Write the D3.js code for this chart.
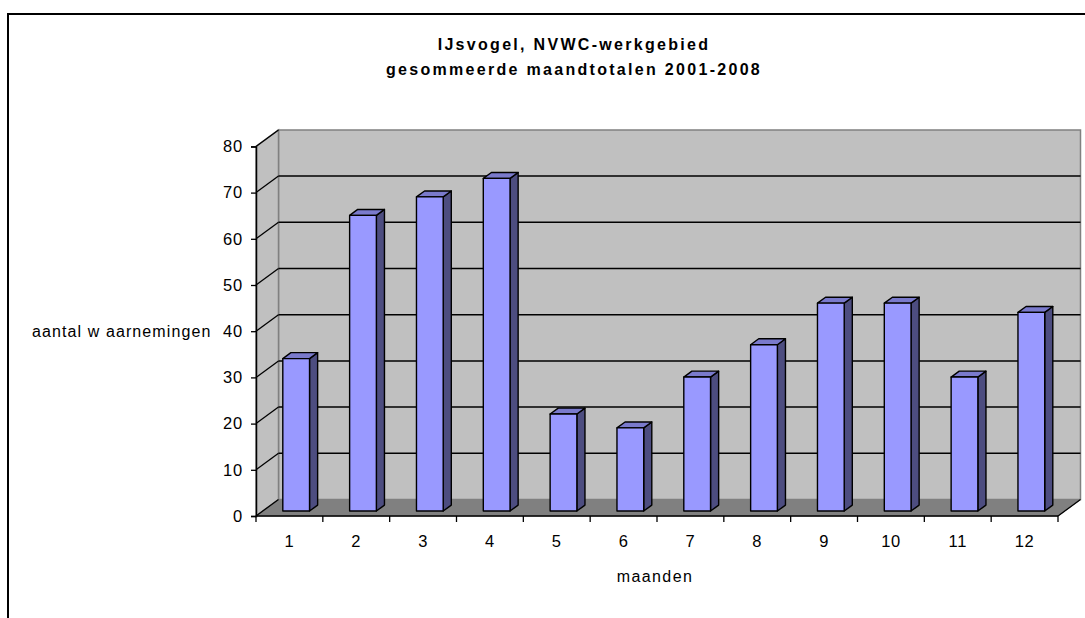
<!DOCTYPE html>
<html>
<head>
<meta charset="utf-8">
<script src="https://cdn.jsdelivr.net/npm/d3@7"></script>
<style>
html,body{margin:0;padding:0;background:#fff;}
svg{display:block;font-family:"Liberation Sans",Arial,sans-serif;}
</style>
</head>
<body>
<svg id="c" width="1085" height="618"></svg>
<script>
const months = ["1","2","3","4","5","6","7","8","9","10","11","12"];
const counts = [33,64,68,72,21,18,29,36,45,45,29,43];
const yTicks = [0,10,20,30,40,50,60,70,80];
const titleLines = ["IJsvogel, NVWC-werkgebied","gesommeerde maandtotalen 2001-2008"];
const xTitle = "maanden";
const yTitle = "aantal w aarnemingen";

const svg = d3.select("#c");
const W = 1085, H = 618;
const FONT = "Liberation Sans, Arial, sans-serif";

// outer chart border
svg.append("rect").attr("x",8).attr("y",14).attr("width",W+10).attr("height",H+10)
  .attr("fill","#fff").attr("stroke","#000").attr("stroke-width",2);

const X0 = 256, X1 = 1058, Y0 = 516, YTOP = 146.4;
const DX = 22.5, DY = 16.5;
const x = d3.scaleBand().domain(months).range([X0, X1]).padding(0);
const y = d3.scaleLinear().domain([0,80]).range([Y0, YTOP]);
const P = (px, py, d) => [px + d*DX, py - d*DY];
const poly = pts => "M" + pts.map(p => p.join(",")).join("L") + "Z";

// back wall
svg.append("path").attr("d", poly([P(X0,y(0),1),P(X1,y(0),1),P(X1,y(80),1),P(X0,y(80),1)]))
  .attr("fill","#c0c0c0").attr("stroke","#808080").attr("stroke-width",1.5);
// side wall
svg.append("path").attr("d", poly([P(X0,y(0),0),P(X0,y(0),1),P(X0,y(80),1),P(X0,y(80),0)]))
  .attr("fill","#c0c0c0").attr("stroke","#808080").attr("stroke-width",1.5);
// floor
svg.append("path").attr("d", poly([P(X0,Y0,0),P(X1,Y0,0),P(X1,Y0,1),P(X0,Y0,1)]))
  .attr("fill","#808080").attr("stroke","#808080").attr("stroke-width",1);

// gridlines on back wall + diagonals on side wall
const grid = svg.append("g");
yTicks.filter(t => t>0 && t<80).forEach(t => {
  const a = P(X0,y(t),1), b = P(X1,y(t),1);
  grid.append("line").attr("x1",a[0]).attr("y1",a[1]).attr("x2",b[0]).attr("y2",b[1])
    .attr("stroke","#000").attr("stroke-width",1.5);
});
yTicks.forEach(t => {
  const a = P(X0,y(t),0), b = P(X0,y(t),1);
  grid.append("line").attr("x1",a[0]).attr("y1",a[1]).attr("x2",b[0]).attr("y2",b[1])
    .attr("stroke","#000").attr("stroke-width",1.3);
});
// floor edge lines
{
  const a = P(X0,Y0,0), b = P(X1,Y0,0), c = P(X1,Y0,1);
  grid.append("line").attr("x1",a[0]).attr("y1",a[1]).attr("x2",b[0]).attr("y2",b[1]).attr("stroke","#000").attr("stroke-width",1.5);
  grid.append("line").attr("x1",b[0]).attr("y1",b[1]).attr("x2",c[0]).attr("y2",c[1]).attr("stroke","#000").attr("stroke-width",1.3);
}

// bars
const D0 = 0.30, D1 = 0.66;
const bw = x.bandwidth()*0.40;
const bars = svg.append("g");
months.forEach((m,i) => {
  const xl = x(m) + (x.bandwidth()-bw)/2, xr = xl + bw;
  const yt = y(counts[i]), yb = y(0);
  const g = bars.append("g").attr("stroke","#000").attr("stroke-width",1.4).attr("stroke-linejoin","round");
  g.append("path").attr("d", poly([P(xr,yb,D0),P(xr,yb,D1),P(xr,yt,D1),P(xr,yt,D0)])).attr("fill","#4d4d80");
  g.append("path").attr("d", poly([P(xl,yt,D0),P(xr,yt,D0),P(xr,yt,D1),P(xl,yt,D1)])).attr("fill","#7a7acc");
  g.append("path").attr("d", poly([P(xl,yb,D0),P(xr,yb,D0),P(xr,yt,D0),P(xl,yt,D0)])).attr("fill","#9999ff");
});

// y axis
const yAxis = svg.append("g").attr("transform",`translate(${X0},0)`)
  .call(d3.axisLeft(y).tickValues(yTicks).tickSize(5).tickPadding(8).tickFormat(d3.format("d")));
yAxis.select(".domain").attr("stroke","#000").attr("stroke-width",1.5);
yAxis.selectAll(".tick line").attr("stroke","#000").attr("stroke-width",1.3);
yAxis.selectAll("text").attr("font-size",16.5).attr("fill","#000").attr("font-family",FONT).attr("letter-spacing",0.8);

// x axis: labels at band centers, ticks at band boundaries
const xAxis = svg.append("g").attr("transform",`translate(0,${Y0})`)
  .call(d3.axisBottom(x).tickSize(0).tickPadding(19));
xAxis.select(".domain").remove();
xAxis.selectAll("text").attr("font-size",16.5).attr("fill","#000").attr("font-family",FONT).attr("letter-spacing",0.6);
const bounds = months.map(m => x(m)).concat([X1]);
svg.append("g").selectAll("line").data(bounds).join("line")
  .attr("x1",d=>d).attr("x2",d=>d).attr("y1",Y0).attr("y2",Y0+6)
  .attr("stroke","#000").attr("stroke-width",1.3);

// titles
svg.append("g").selectAll("text").data(titleLines).join("text")
  .attr("x",574).attr("y",(d,i)=>50+i*25).attr("text-anchor","middle")
  .attr("font-size",16).attr("font-weight","bold").attr("letter-spacing",2.3).text(d=>d);
svg.append("text").attr("x",655).attr("y",582).attr("text-anchor","middle")
  .attr("font-size",16).attr("letter-spacing",1.4).text(xTitle);
svg.append("text").attr("x",32).attr("y",337).attr("font-size",16).attr("letter-spacing",1.1).text(yTitle);
</script>
</body>
</html>
